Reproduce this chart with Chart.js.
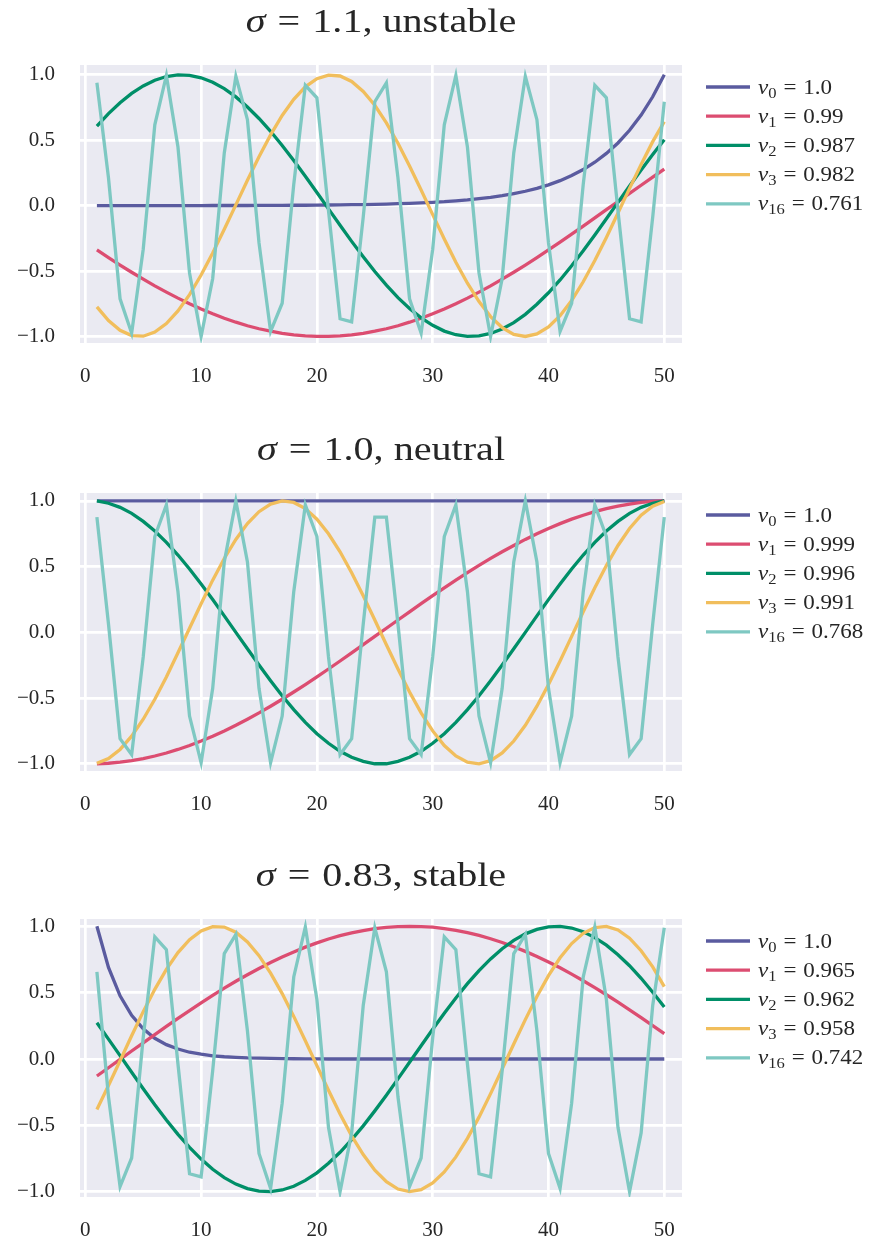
<!DOCTYPE html>
<html>
<head>
<meta charset="utf-8">
<script src="https://cdn.jsdelivr.net/npm/chart.js@4/dist/chart.umd.min.js"></script>
<style>
    body { margin: 0; background: #fff; width: 877px; height: 1242px; overflow: hidden; position: relative; }
    .panel { position: absolute; left: 0; width: 877px; height: 414px; }
</style>
</head>
<body>
<div class="panel" style="top:0px"><canvas id="chartUnstable" width="877" height="414"></canvas></div>
<div class="panel" style="top:428px"><canvas id="chartNeutral" width="877" height="414"></canvas></div>
<div class="panel" style="top:854px"><canvas id="chartStable" width="877" height="414"></canvas></div>
<script>
const xValues = [1, 2, 3, 4, 5, 6, 7, 8, 9, 10, 11, 12, 13, 14, 15, 16, 17, 18, 19, 20, 21, 22, 23, 24, 25,
    26, 27, 28, 29, 30, 31, 32, 33, 34, 35, 36, 37, 38, 39, 40, 41, 42, 43, 44, 45, 46, 47, 48, 49, 50];
const xTicks = [0, 10, 20, 30, 40, 50];
const yTicks = [-1, -0.5, 0, 0.5, 1];
const yTickLabels = ['\u22121.0', '\u22120.5', '0.0', '0.5', '1.0'];

const modeIndices = ['0', '1', '2', '3', '16'];
const modeColors = ['#5a5b9f', '#dc4d71', '#008f68', '#f1be5c', '#7ec8c2'];

// sigma = 1.1 (unstable)
const unstableNu = ['1.0', '0.99', '0.987', '0.982', '0.761'];
const unstableMode0 = [0, 0, 0, 0, 0, 0, 0, 0, 0, 0, 0.001, 0.001, 0.001, 0.001, 0.002, 0.002, 0.002, 0.003, 0.003, 0.004,
    0.005, 0.006, 0.007, 0.008, 0.010, 0.012, 0.015, 0.018, 0.021, 0.025, 0.030, 0.037, 0.044, 0.053, 0.063, 0.076, 0.092,
    0.110, 0.132, 0.159, 0.191, 0.230, 0.276, 0.332, 0.399, 0.479, 0.576, 0.692, 0.832, 1.0];
const unstableMode1 = [-0.339, -0.397, -0.454, -0.509, -0.562, -0.613, -0.661, -0.707, -0.750, -0.790,
    -0.827, -0.861, -0.891, -0.918, -0.941, -0.960, -0.976, -0.988, -0.996, -1.0,
    -1.0, -0.996, -0.988, -0.976, -0.960, -0.941, -0.918, -0.891, -0.861, -0.827,
    -0.790, -0.750, -0.707, -0.661, -0.613, -0.562, -0.509, -0.454, -0.397, -0.339,
    -0.279, -0.218, -0.156, -0.094, -0.031, 0.031, 0.094, 0.156, 0.218, 0.279];
const unstableMode2 = [0.608, 0.703, 0.786, 0.858, 0.915, 0.959, 0.987, 0.999, 0.996, 0.977,
    0.943, 0.894, 0.831, 0.754, 0.666, 0.568, 0.460, 0.345, 0.224, 0.100,
    -0.025, -0.150, -0.273, -0.391, -0.504, -0.608, -0.703, -0.786, -0.858, -0.915,
    -0.959, -0.987, -0.999, -0.996, -0.977, -0.943, -0.894, -0.831, -0.754, -0.666,
    -0.568, -0.460, -0.345, -0.224, -0.100, 0.025, 0.150, 0.273, 0.391, 0.504];
const unstableMode3 = [-0.774, -0.879, -0.953, -0.993, -0.998, -0.967, -0.902, -0.805, -0.680, -0.530,
    -0.362, -0.181, 0.006, 0.194, 0.374, 0.541, 0.689, 0.813, 0.908, 0.970,
    0.998, 0.991, 0.949, 0.873, 0.767, 0.633, 0.477, 0.303, 0.119, -0.069,
    -0.255, -0.433, -0.593, -0.733, -0.848, -0.932, -0.984, -1.0, -0.981, -0.927,
    -0.841, -0.725, -0.582, -0.420, -0.243, -0.056, 0.132, 0.315, 0.489, 0.642];
const unstableMode16 = [0.939, 0.212, -0.712, -0.975, -0.333, 0.618, 0.995, 0.448, -0.515, -1.0,
    -0.557, 0.403, 0.989, 0.657, -0.285, -0.962, -0.746, 0.162, 0.920, 0.824,
    -0.038, -0.865, -0.888, -0.088, 0.794, 0.939, 0.212, -0.712, -0.975, -0.333,
    0.618, 0.995, 0.448, -0.515, -1.0, -0.557, 0.403, 0.989, 0.657, -0.285,
    -0.962, -0.746, 0.162, 0.920, 0.824, -0.038, -0.865, -0.888, -0.088, 0.794];

// sigma = 1.0 (neutral)
const neutralNu = ['1.0', '0.999', '0.996', '0.991', '0.768'];
const neutralMode0 = [1.0, 1.0, 1.0, 1.0, 1.0, 1.0, 1.0, 1.0, 1.0, 1.0, 1.0, 1.0, 1.0, 1.0, 1.0, 1.0, 1.0, 1.0, 1.0, 1.0,
    1.0, 1.0, 1.0, 1.0, 1.0, 1.0, 1.0, 1.0, 1.0, 1.0, 1.0, 1.0, 1.0, 1.0, 1.0, 1.0, 1.0, 1.0, 1.0, 1.0,
    1.0, 1.0, 1.0, 1.0, 1.0, 1.0, 1.0, 1.0, 1.0, 1.0];
const neutralMode1 = [-1.0, -0.996, -0.988, -0.976, -0.960, -0.941, -0.918, -0.891, -0.861, -0.827,
    -0.790, -0.750, -0.707, -0.661, -0.613, -0.562, -0.509, -0.454, -0.397, -0.339,
    -0.279, -0.218, -0.156, -0.094, -0.031, 0.031, 0.094, 0.156, 0.218, 0.279,
    0.339, 0.397, 0.454, 0.509, 0.562, 0.613, 0.661, 0.707, 0.750, 0.790,
    0.827, 0.861, 0.891, 0.918, 0.941, 0.960, 0.976, 0.988, 0.996, 1.0];
const neutralMode2 = [1.0, 0.982, 0.951, 0.905, 0.844, 0.771, 0.685, 0.588, 0.482, 0.368,
    0.249, 0.125, 0.0, -0.125, -0.249, -0.368, -0.482, -0.588, -0.685, -0.771,
    -0.844, -0.905, -0.951, -0.982, -1.0, -1.0, -0.982, -0.951, -0.905, -0.844,
    -0.771, -0.685, -0.588, -0.482, -0.368, -0.249, -0.125, 0.0, 0.125, 0.249,
    0.368, 0.482, 0.588, 0.685, 0.771, 0.844, 0.905, 0.951, 0.982, 1.0];
const neutralMode3 = [-0.996, -0.960, -0.891, -0.790, -0.661, -0.509, -0.339, -0.156, 0.031, 0.218,
    0.397, 0.562, 0.707, 0.827, 0.918, 0.976, 1.0, 0.988, 0.941, 0.861,
    0.750, 0.613, 0.454, 0.279, 0.094, -0.094, -0.279, -0.454, -0.613, -0.750,
    -0.861, -0.941, -0.988, -1.0, -0.976, -0.918, -0.827, -0.707, -0.562, -0.397,
    -0.218, -0.031, 0.156, 0.339, 0.509, 0.661, 0.790, 0.891, 0.960, 0.996];
const neutralMode16 = [0.876, 0.063, -0.809, -0.930, -0.187, 0.729, 0.969, 0.309, -0.637, -0.992,
    -0.426, 0.536, 1.0, 0.536, -0.426, -0.992, -0.637, 0.309, 0.969, 0.729,
    -0.187, -0.930, -0.809, 0.063, 0.876, 0.876, 0.063, -0.809, -0.930, -0.187,
    0.729, 0.969, 0.309, -0.637, -0.992, -0.426, 0.536, 1.0, 0.536, -0.426,
    -0.992, -0.637, 0.309, 0.969, 0.729, -0.187, -0.930, -0.809, 0.063, 0.876];

// sigma = 0.83 (stable)
const stableNu = ['1.0', '0.965', '0.962', '0.958', '0.742'];
const stableMode0 = [1.0, 0.690, 0.476, 0.329, 0.227, 0.156, 0.108, 0.075, 0.051, 0.036,
    0.024, 0.017, 0.012, 0.008, 0.006, 0.004, 0.003, 0.002, 0.001, 0.001,
    0, 0, 0, 0, 0, 0, 0, 0, 0, 0, 0, 0, 0, 0, 0, 0, 0, 0, 0, 0, 0, 0, 0, 0, 0, 0, 0, 0, 0, 0];
const stableMode1 = [-0.128, -0.066, -0.003, 0.060, 0.122, 0.184, 0.246, 0.306, 0.365, 0.423,
    0.479, 0.534, 0.586, 0.635, 0.682, 0.727, 0.769, 0.807, 0.843, 0.875,
    0.904, 0.929, 0.950, 0.968, 0.982, 0.992, 0.998, 1.0, 0.998, 0.993,
    0.983, 0.969, 0.952, 0.931, 0.906, 0.878, 0.846, 0.811, 0.773, 0.731,
    0.687, 0.640, 0.590, 0.538, 0.484, 0.428, 0.371, 0.312, 0.252, 0.191];
const stableMode2 = [0.273, 0.150, 0.025, -0.100, -0.224, -0.345, -0.460, -0.568, -0.666, -0.754,
    -0.831, -0.894, -0.943, -0.977, -0.996, -0.999, -0.987, -0.959, -0.915, -0.858,
    -0.786, -0.703, -0.608, -0.504, -0.391, -0.273, -0.150, -0.025, 0.100, 0.224,
    0.345, 0.460, 0.568, 0.666, 0.754, 0.831, 0.894, 0.943, 0.977, 0.996,
    0.999, 0.987, 0.959, 0.915, 0.858, 0.786, 0.703, 0.608, 0.503, 0.391];
const stableMode3 = [-0.380, -0.200, -0.013, 0.175, 0.357, 0.525, 0.675, 0.802, 0.899, 0.965,
    0.997, 0.994, 0.955, 0.882, 0.779, 0.647, 0.493, 0.321, 0.138, -0.050,
    -0.236, -0.415, -0.579, -0.720, -0.838, -0.925, -0.980, -1.0, -0.985, -0.934,
    -0.851, -0.738, -0.598, -0.438, -0.261, -0.075, 0.113, 0.297, 0.471, 0.628,
    0.763, 0.870, 0.947, 0.991, 0.999, 0.972, 0.910, 0.816, 0.694, 0.546];
const stableMode16 = [0.657, -0.285, -0.962, -0.746, 0.162, 0.920, 0.824, -0.038, -0.865, -0.888,
    -0.088, 0.794, 0.939, 0.212, -0.712, -0.975, -0.333, 0.618, 0.995, 0.448,
    -0.515, -1.0, -0.557, 0.403, 0.989, 0.657, -0.285, -0.962, -0.746, 0.162,
    0.920, 0.824, -0.038, -0.865, -0.888, -0.088, 0.794, 0.939, 0.212, -0.712,
    -0.975, -0.333, 0.618, 0.995, 0.448, -0.515, -1.0, -0.557, 0.403, 0.989];

const SERIF = '"Liberation Serif", "Times New Roman", serif';
const TEXT_COLOR = '#262626';

// draws a row of text pieces (roman / italic / subscript) with a horizontal stretch,
// so the serif face gets closer to the wide TeX look
function drawPieces(ctx, pieces, x, y, align, stretch) {
    let total = 0;
    for (const p of pieces) {
        ctx.font = p.font;
        p.w = p.gap !== undefined ? p.gap : ctx.measureText(p.text).width;
        total += p.w;
    }
    const start = align === 'center' ? x - total * stretch / 2 : x;
    ctx.save();
    ctx.translate(start, y);
    ctx.scale(stretch, 1);
    ctx.fillStyle = TEXT_COLOR;
    ctx.textBaseline = 'alphabetic';
    ctx.textAlign = 'left';
    let cx = 0;
    for (const p of pieces) {
        if (p.text) {
            ctx.font = p.font;
            ctx.fillText(p.text, cx, p.dy || 0);
        }
        cx += p.w;
    }
    ctx.restore();
}

const panelDecor = {
    id: 'panelDecor',
    beforeDraw(chart) {
        const { ctx, chartArea: a } = chart;
        ctx.save();
        ctx.fillStyle = '#eaeaf2';
        ctx.fillRect(a.left, a.top, a.right - a.left, a.bottom - a.top);
        ctx.restore();
    },
    afterDraw(chart, args, opts) {
        const { ctx, chartArea: a } = chart;

        // title above the plot area
        const tSize = 34;
        drawPieces(ctx, [
            { text: '\u03c3', font: `italic ${tSize}px ${SERIF}` },
            { gap: tSize * 0.3 },
            { text: '=', font: `${tSize}px ${SERIF}` },
            { gap: tSize * 0.3 },
            { text: `${opts.sigma}, ${opts.regime}`, font: `${tSize}px ${SERIF}` }
        ], (a.left + a.right) / 2, a.top - 33, 'center', 1.18);

        // legend to the right of the plot
        const lSize = 20;
        opts.nu.forEach((nu, i) => {
            const rowY = a.top + 22 + i * 29.2;
            ctx.save();
            ctx.strokeStyle = modeColors[i];
            ctx.lineWidth = 3.3;
            ctx.beginPath();
            ctx.moveTo(706, rowY);
            ctx.lineTo(750, rowY);
            ctx.stroke();
            ctx.restore();
            drawPieces(ctx, [
                { text: '\u03bd', font: `italic ${lSize}px ${SERIF}` },
                { text: modeIndices[i], font: `${lSize * 0.72}px ${SERIF}`, dy: 4 },
                { gap: lSize * 0.3 },
                { text: '=', font: `${lSize}px ${SERIF}` },
                { gap: lSize * 0.3 },
                { text: nu, font: `${lSize}px ${SERIF}` }
            ], 758, rowY + 6.5, 'left', 1.15);
        });
    }
};

function makeChart(canvasId, modes, nu, sigma, regime, yMin, yMax) {
    const tickFont = { family: SERIF, size: 21 };
    return new Chart(document.getElementById(canvasId), {
        type: 'line',
        data: {
            labels: xValues,
            datasets: modes.map((values, i) => ({
                data: values,
                borderColor: modeColors[i],
                borderWidth: 3.3,
                pointRadius: 0,
                tension: 0,
                fill: false,
                order: modes.length - i
            }))
        },
        options: {
            responsive: false,
            animation: false,
            events: [],
            layout: { padding: { top: 65, right: 195, bottom: 0, left: 0 } },
            plugins: {
                legend: { display: false },
                tooltip: { enabled: false },
                panelDecor: { nu, sigma, regime }
            },
            scales: {
                x: {
                    type: 'linear',
                    min: -0.46,
                    max: 51.53,
                    afterBuildTicks: (scale) => { scale.ticks = xTicks.map(v => ({ value: v })); },
                    afterFit: (scale) => { scale.height = 71; },
                    grid: { color: '#ffffff', lineWidth: 2.7, drawTicks: false },
                    border: { display: false },
                    ticks: { font: tickFont, color: TEXT_COLOR, padding: 21, autoSkip: false, maxRotation: 0,
                        callback: (value) => String(value) }
                },
                y: {
                    min: yMin,
                    max: yMax,
                    afterBuildTicks: (scale) => { scale.ticks = yTicks.map(v => ({ value: v })); },
                    afterFit: (scale) => { scale.width = 80; },
                    grid: { color: '#ffffff', lineWidth: 2.7, drawTicks: false },
                    border: { display: false },
                    ticks: { font: tickFont, color: TEXT_COLOR, padding: 25, autoSkip: false,
                        callback: (value, index) => yTickLabels[index] }
                }
            }
        },
        plugins: [panelDecor]
    });
}

makeChart('chartUnstable', [unstableMode0, unstableMode1, unstableMode2, unstableMode3, unstableMode16],
    unstableNu, '1.1', 'unstable', -1.05, 1.075);
makeChart('chartNeutral', [neutralMode0, neutralMode1, neutralMode2, neutralMode3, neutralMode16],
    neutralNu, '1.0', 'neutral', -1.055, 1.06);
makeChart('chartStable', [stableMode0, stableMode1, stableMode2, stableMode3, stableMode16],
    stableNu, '0.83', 'stable', -1.04, 1.055);
</script>
</body>
</html>
